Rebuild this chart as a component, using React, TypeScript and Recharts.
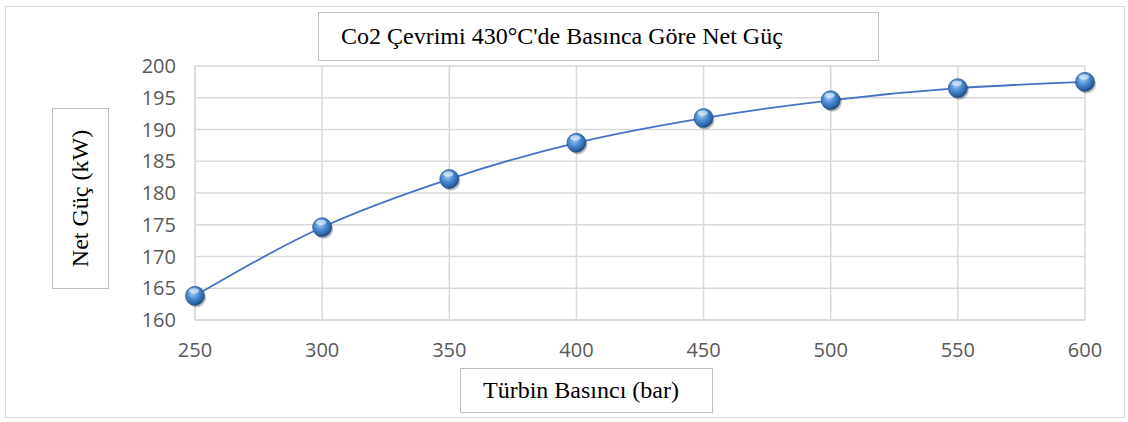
import { LineChart, Line, XAxis, YAxis, CartesianGrid } from 'recharts';

const pressures = [250, 300, 350, 400, 450, 500, 550, 600];
const netPower = [163.8, 174.6, 182.2, 187.9, 191.8, 194.6, 196.5, 197.5];
const yTicks = [160, 165, 170, 175, 180, 185, 190, 195, 200];

const chartData = pressures.map((p, i) => ({ pressure: p, power: netPower[i] }));

const tickFont = { fontFamily: 'Open Sans, sans-serif', fontSize: 20, fill: '#595959' };
const serif = "'Liberation Serif', 'Times New Roman', serif";

// sphere-like marker similar to the Excel style
const SphereDot = (props: any) => {
  const { cx, cy } = props;
  if (cx == null || cy == null) return null;
  return (
    <g>
      <circle cx={cx + 1.5} cy={cy + 2} r={9.5} fill="rgba(0,0,0,0.25)" />
      <circle cx={cx} cy={cy} r={9.5} fill="url(#sphere)" stroke="#2f5d8f" strokeWidth={0.8} />
      <ellipse cx={cx - 1} cy={cy - 5} rx={5} ry={2.6} fill="rgba(255,255,255,0.55)" />
    </g>
  );
};

const boxStyle: React.CSSProperties = {
  position: 'absolute',
  background: '#fff',
  border: '1.5px solid #bfbfbf',
  boxSizing: 'border-box',
  fontFamily: serif,
  fontSize: 24,
  color: '#000',
  display: 'flex',
  alignItems: 'center',
};

export default function App() {
  return (
    <div style={{ position: 'absolute', left: 0, top: 0, width: 1128, height: 422, background: '#fff' }}>
      <div style={{ position: 'absolute', left: 5, top: 6, width: 1120, height: 412, border: '1.5px solid #d9d9d9', boxSizing: 'border-box' }} />
      <LineChart
        width={1128}
        height={422}
        data={chartData}
        margin={{ top: 66, right: 43, left: 135, bottom: 62 }}
        style={{ position: 'absolute', left: 0, top: 0 }}
      >
        <defs>
          <radialGradient id="sphere" cx="40%" cy="35%" r="65%">
            <stop offset="0%" stopColor="#a9cbef" />
            <stop offset="45%" stopColor="#4f8fd6" />
            <stop offset="85%" stopColor="#2a62a6" />
            <stop offset="100%" stopColor="#1d4677" />
          </radialGradient>
        </defs>
        <CartesianGrid stroke="#d9d9d9" strokeWidth={1.5} />
        <XAxis
          dataKey="pressure"
          type="number"
          domain={[250, 600]}
          ticks={pressures}
          height={40}
          axisLine={{ stroke: '#d9d9d9', strokeWidth: 1.5 }}
          tickLine={false}
          tick={{ ...tickFont, dy: 15 }}
        />
        <YAxis
          domain={[160, 200]}
          ticks={yTicks}
          width={60}
          axisLine={{ stroke: '#d9d9d9', strokeWidth: 1.5 }}
          tickLine={false}
          tick={{ ...tickFont, dx: -11 }}
        />
        <Line
          type="monotone"
          dataKey="power"
          stroke="#4472c4"
          strokeWidth={1.8}
          dot={<SphereDot />}
          activeDot={false}
          isAnimationActive={false}
        />
      </LineChart>

      <div style={{ ...boxStyle, left: 318, top: 12, width: 561, height: 49, paddingLeft: 22 }}>
        Co2 Çevrimi 430°C'de Basınca Göre Net Güç
      </div>
      <div style={{ ...boxStyle, left: 52, top: 108, width: 57, height: 181, justifyContent: 'center' }}>
        <span style={{ transform: 'rotate(-90deg)', whiteSpace: 'nowrap', display: 'inline-block' }}>Net Güç (kW)</span>
      </div>
      <div style={{ ...boxStyle, left: 460, top: 368, width: 253, height: 45, paddingLeft: 22 }}>
        Türbin Basıncı (bar)
      </div>
    </div>
  );
}
